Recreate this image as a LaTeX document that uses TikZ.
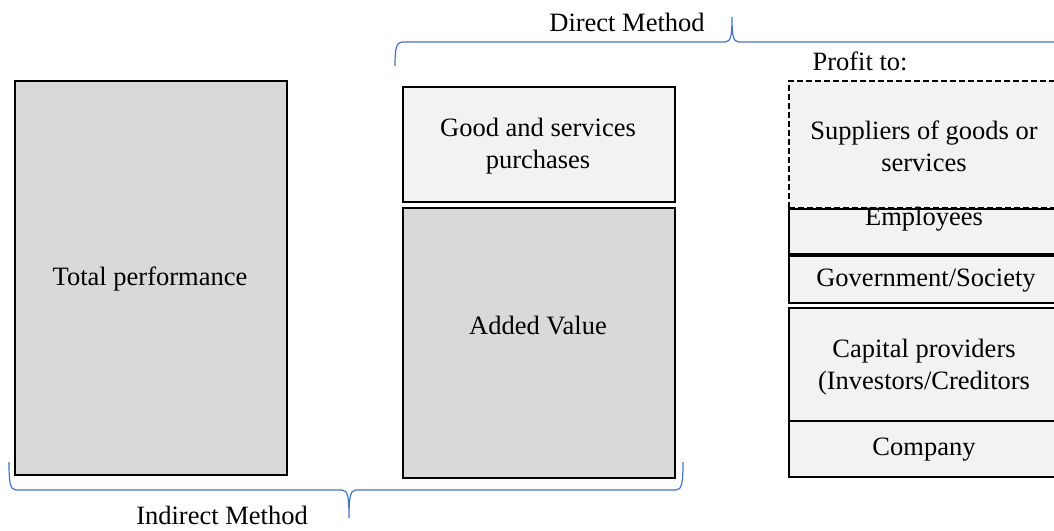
\documentclass[tikz,border=0pt]{standalone}
\usepackage{fontspec}
\setmainfont{Liberation Serif}
\definecolor{darkfill}{HTML}{D9D9D9}
\definecolor{lightfill}{HTML}{F2F2F2}
\definecolor{bracecol}{HTML}{4472C4}
\begin{document}
\begin{tikzpicture}[x=1pt,y=-1pt,
  box/.style={draw=black, line width=2pt, anchor=north west, inner sep=0pt},
  lbl/.style={inner sep=0pt, align=center, font=\fontsize{26.5}{32}\selectfont},
  brace/.style={draw=bracecol, line width=1.2pt}]
\useasboundingbox (0,0) rectangle (1054,530);
\clip (0,0) rectangle (1054,530);
% left column
\node[box, fill=darkfill, minimum width=272pt, minimum height=394pt] (total) at (14,80) {};
\node[lbl] (totaltxt) at (150,279) {Total performance};
% middle column
\node[box, fill=lightfill, minimum width=272pt, minimum height=115pt] (goods) at (402,86) {};
\node[lbl] (goodstxt) at (538,146) {Good and services\\purchases};
\node[box, fill=darkfill, minimum width=272pt, minimum height=270pt] (added) at (402,207) {};
\node[lbl] (addedtxt) at (538,326) {Added Value};
% right column
\node[box, fill=lightfill, dash pattern=on 6pt off 3pt, minimum width=272pt, minimum height=127pt] (supp) at (788,80) {};
\node[lbl] (supptxt) at (924,146) {Suppliers of goods or\\services};
\node[box, fill=lightfill, minimum width=272pt, minimum height=45pt] (emp) at (788,208) {};
\node[lbl] (emptxt) at (924,219) {Employees};
\node[box, fill=lightfill, minimum width=272pt, minimum height=47pt] (gov) at (788,255) {};
\node[lbl] (govtxt) at (926,281) {Government/Society};
\node[box, fill=lightfill, minimum width=272pt, minimum height=113pt] (cap) at (788,307) {};
\node[lbl] (captxt) at (924,367) {Capital providers\\(Investors/Creditors};
\node[box, fill=lightfill, minimum width=272pt, minimum height=56pt] (comp) at (788,420) {};
\node[lbl] (comptxt) at (924,450) {Company};
% labels
\node[lbl] (direct) at (627,22) {Direct Method};
\node[lbl] (profit) at (860,61) {Profit to:};
\node[lbl] (indirect) at (222,515) {Indirect Method};
% braces
\draw[brace] (395,66) .. controls (395,50) and (396,42) .. (402,42) -- (725,42)
  .. controls (731,42) and (732,35) .. (732,17)
  .. controls (732,35) and (733,42) .. (739,42) -- (1060,42);
\draw[brace] (9,462) .. controls (9,482) and (10,490) .. (16,490) -- (342,490)
  .. controls (348,490) and (349,498) .. (349,518)
  .. controls (349,498) and (350,490) .. (356,490) -- (676,490)
  .. controls (682,490) and (683,482) .. (683,462);
\end{tikzpicture}
\end{document}
